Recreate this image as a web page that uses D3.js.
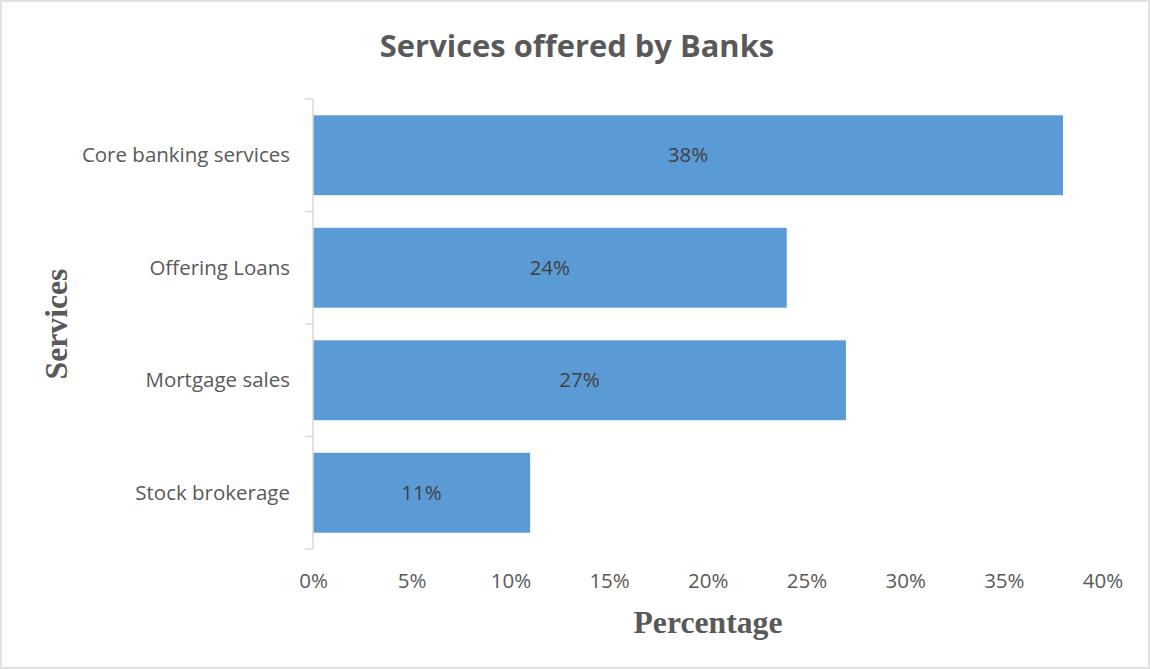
<!DOCTYPE html>
<html><head><meta charset="utf-8">
<script src="https://cdn.jsdelivr.net/npm/d3@7"></script>
<style>body{margin:0;background:#fff}svg{display:block}</style>
</head><body>
<script>
const categories = ["Core banking services","Offering Loans","Mortgage sales","Stock brokerage"];
const values = [0.38, 0.24, 0.27, 0.11];
const tickValues = [0,0.05,0.10,0.15,0.20,0.25,0.30,0.35,0.40];

const W = 1150, H = 669;
const svg = d3.select("body").append("svg").attr("width", W).attr("height", H);
svg.append("rect").attr("x",1).attr("y",1).attr("width",W-2).attr("height",H-2)
  .attr("fill","#fff").attr("stroke","#d9d9d9").attr("stroke-width",1.5);

const x = d3.scaleLinear().domain([0,0.40]).range([313,1102.5]);
const y = d3.scaleBand().domain(categories).range([99,549]).paddingInner(0.29).paddingOuter(0.145);
const yb = d3.scaleBand().domain(categories).range([99,549]);

svg.append("text").attr("x",577).attr("y",57).attr("text-anchor","middle")
  .attr("font-family","Open Sans, sans-serif").attr("font-weight","bold").attr("font-size",30.9)
  .attr("fill","#595959").text("Services offered by Banks");

svg.selectAll("rect.bar").data(categories).enter().append("rect").attr("class","bar")
  .attr("x", x(0)).attr("y", d=>y(d)).attr("height", y.bandwidth())
  .attr("width", (d,i)=>x(values[i])-x(0)).attr("fill","#5b9bd5");

svg.selectAll("text.val").data(categories).enter().append("text").attr("class","val")
  .attr("x",(d,i)=>(x(0)+x(values[i]))/2).attr("y", d=>y(d)+y.bandwidth()/2+7)
  .attr("text-anchor","middle").attr("font-family","Open Sans, sans-serif").attr("font-size",20.5)
  .attr("fill","#404040").text((d,i)=>Math.round(values[i]*100)+"%");

// y axis line and ticks at band boundaries
const yg = svg.append("g");
yg.append("line").attr("x1",313).attr("x2",313).attr("y1",99).attr("y2",549).attr("stroke","#d9d9d9").attr("stroke-width",1.5);
const bounds = categories.map(c=>yb(c)).concat([549]);
yg.selectAll("line.t").data(bounds).enter().append("line").attr("class","t")
  .attr("x1",305).attr("x2",313).attr("y1",d=>d).attr("y2",d=>d).attr("stroke","#d9d9d9").attr("stroke-width",1.5);
yg.selectAll("text").data(categories).enter().append("text")
  .attr("x",290).attr("y",d=>yb(d)+yb.bandwidth()/2+7).attr("text-anchor","end")
  .attr("font-family","Open Sans, sans-serif").attr("font-size",20.5).attr("fill","#595959").text(d=>d);

// x axis labels
const xAxis = d3.axisBottom(x).tickValues(tickValues).tickFormat(d3.format(".0%")).tickSize(0).tickPadding(0);
const xg = svg.append("g").attr("transform","translate(0,588)").call(xAxis);
xg.select(".domain").remove();
xg.selectAll("text").attr("font-family","Open Sans, sans-serif").attr("font-size",20.5).attr("fill","#595959").attr("dy","0");

svg.append("text").attr("x",708).attr("y",633).attr("text-anchor","middle")
  .attr("font-family","Liberation Serif, serif").attr("font-weight","bold").attr("font-size",31.7)
  .attr("fill","#595959").text("Percentage");
svg.append("text").attr("transform","translate(67,324) rotate(-90)").attr("text-anchor","middle")
  .attr("font-family","Liberation Serif, serif").attr("font-weight","bold").attr("font-size",31.7)
  .attr("fill","#595959").text("Services");
</script>
</body></html>
